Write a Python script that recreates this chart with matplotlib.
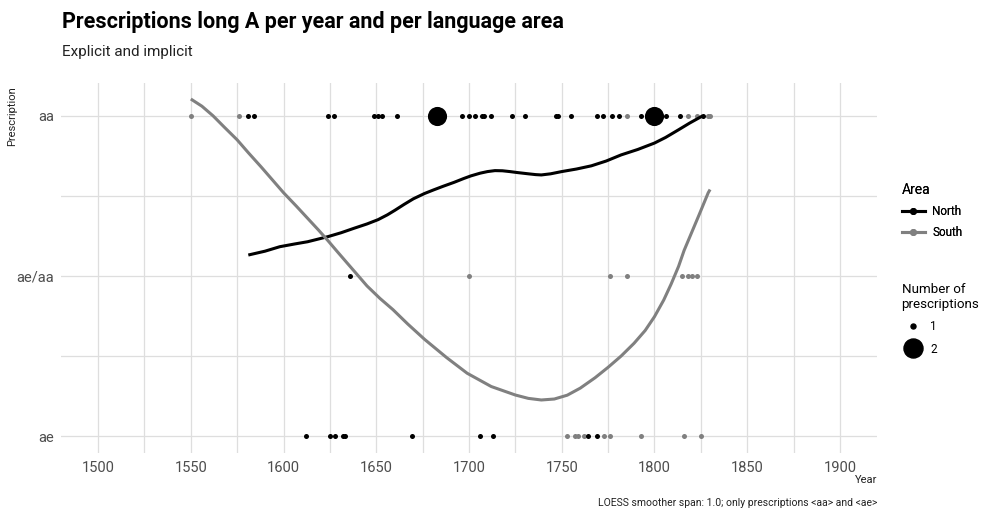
import numpy as np
import matplotlib.pyplot as plt
from matplotlib.lines import Line2D

plt.rcParams['font.family'] = ['Roboto', 'DejaVu Sans']

# prescriptions: 0 = ae, 1 = ae/aa, 2 = aa
levels = ['ae', 'ae/aa', 'aa']

north_aa = [1581, 1584, 1624, 1627, 1649, 1651, 1653, 1661, 1696, 1700, 1703, 1707,
            1708, 1712, 1723, 1730, 1747, 1748, 1755, 1769, 1772, 1777, 1781, 1793,
            1806, 1814, 1826]
north_aa_double = [1683, 1800]
north_mixed = [1636]
north_ae = [1612, 1625, 1628, 1632, 1633, 1669, 1706, 1713, 1764, 1769]

south_aa = [1550, 1576, 1785, 1818, 1823, 1829, 1830]
south_mixed = [1700, 1776, 1785, 1815, 1818, 1820, 1823]
south_ae = [1753, 1757, 1759, 1762, 1773, 1776, 1793, 1816, 1825]

# loess curves
north_fit_x = [1581, 1590, 1598, 1606, 1613, 1624, 1631, 1638, 1645, 1651, 1656, 1660,
               1665, 1670, 1676, 1681, 1686, 1692, 1697, 1701, 1706, 1710, 1714, 1718,
               1722, 1726, 1732, 1736, 1739, 1744, 1750, 1758, 1766, 1774, 1782, 1791,
               1800, 1806, 1813, 1819, 1826]
north_fit_y = [1.131, 1.155, 1.183, 1.200, 1.214, 1.246, 1.270, 1.298, 1.325, 1.352,
               1.382, 1.410, 1.447, 1.482, 1.515, 1.538, 1.560, 1.585, 1.608, 1.625,
               1.642, 1.652, 1.658, 1.657, 1.652, 1.646, 1.638, 1.633, 1.631, 1.638,
               1.652, 1.668, 1.688, 1.718, 1.756, 1.790, 1.830, 1.865, 1.913, 1.955,
               2.000]
south_fit_x = [1550, 1556, 1562, 1568, 1575, 1581, 1588, 1594, 1600, 1607, 1613, 1619,
               1624, 1629, 1634, 1640, 1645, 1652, 1659, 1667, 1676, 1688, 1699, 1712,
               1725, 1732, 1739, 1746, 1753, 1760, 1768, 1775, 1782, 1789, 1795, 1800,
               1805, 1809, 1813, 1816, 1820, 1824, 1829, 1830]
south_fit_y = [2.105, 2.060, 2.000, 1.930, 1.850, 1.770, 1.680, 1.600, 1.520, 1.435,
               1.360, 1.285, 1.220, 1.152, 1.085, 1.005, 0.938, 0.860, 0.790, 0.700,
               0.605, 0.490, 0.393, 0.310, 0.257, 0.236, 0.226, 0.232, 0.256, 0.300,
               0.365, 0.430, 0.500, 0.580, 0.660, 0.746, 0.850, 0.950, 1.060, 1.160,
               1.270, 1.380, 1.520, 1.540]

north_col = '#000000'
south_col = '#808080'
txt = '#4d4d4d'

fig = plt.figure(figsize=(9.81, 5.13), dpi=100)
ax = fig.add_axes([61/981, 1 - 453/513, (877 - 61)/981, (453 - 83)/513])

small = 13
big = 190

def dots(years, level, col, s=small):
    ax.scatter(years, [level] * len(years), s=s, color=col, lw=0, zorder=3)

dots(south_aa, 2, south_col)
dots(south_mixed, 1, south_col)
dots(south_ae, 0, south_col)
dots(north_aa, 2, north_col)
dots(north_aa_double, 2, north_col, big)
dots(north_mixed, 1, north_col)
dots(north_ae, 0, north_col)

ax.plot(north_fit_x, north_fit_y, color=north_col, lw=2.2, zorder=4,
        solid_capstyle='butt', solid_joinstyle='round')
ax.plot(south_fit_x, south_fit_y, color=south_col, lw=2.2, zorder=4,
        solid_capstyle='butt', solid_joinstyle='round')

ax.set_xlim(1480, 1920)
ax.set_ylim(-0.105, 2.205)
ax.set_xticks(np.arange(1500, 1901, 50))
ax.set_xticks(np.arange(1525, 1900, 50), minor=True)
ax.set_yticks([0, 1, 2])
ax.set_yticks([0.5, 1.5], minor=True)
ax.set_yticklabels(levels)
ax.grid(True, which='both', color='#dedede', lw=0.9)
ax.set_axisbelow(True)
for sp in ax.spines.values():
    sp.set_visible(False)
ax.tick_params(which='both', length=0, colors=txt, labelsize=10.5)
ax.tick_params(axis='x', pad=6)
ax.tick_params(axis='y', pad=5)

fig.text(877/981, 1 - 480/513, 'Year', ha='right', va='center', fontsize=8, color='#222222')
fig.text(12/981, 1 - 86/513, 'Prescription', rotation=90, ha='center', va='top',
         fontsize=8, color='#222222')

fig.text(62/981, 1 - 22/513, 'Prescriptions long A per year and per language area',
         fontsize=15.5, fontweight='bold', ha='left', va='center')
fig.text(62/981, 1 - 52/513, 'Explicit and implicit', fontsize=11, ha='left',
         va='center', color='#222222')
fig.text(877/981, 1 - 503/513,
         'LOESS smoother span: 1.0; only prescriptions <aa> and <ae>',
         fontsize=7.5, ha='right', va='center', color='#222222')

area_handles = [
    Line2D([], [], color=north_col, lw=2.2, marker='o', markersize=4),
    Line2D([], [], color=south_col, lw=2.2, marker='o', markersize=4),
]
leg1 = fig.legend(area_handles, ['North', 'South'], title='Area',
                  loc='upper left', bbox_to_anchor=(891/981, 1 - 172/513),
                  frameon=False, fontsize=8.5, title_fontsize=10,
                  handlelength=2.0, handletextpad=0.6, labelspacing=0.7,
                  alignment='left')

size_handles = [
    Line2D([], [], ls='none', marker='o', color='black', markersize=3.6),
    Line2D([], [], ls='none', marker='o', color='black', markersize=13.7),
]
leg2 = fig.legend(size_handles, ['1', '2'], title='Number of\nprescriptions',
                  loc='upper left', bbox_to_anchor=(891/981, 1 - 272/513),
                  frameon=False, fontsize=8.5, title_fontsize=9.6,
                  handlelength=2.0, handletextpad=0.4, labelspacing=0.8,
                  alignment='left')
fig.add_artist(leg1)

fig.savefig('out.png', dpi=100, facecolor='white')
